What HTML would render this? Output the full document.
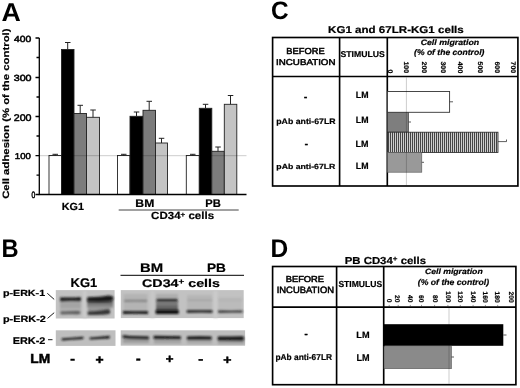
<!DOCTYPE html>
<html><head><meta charset="utf-8">
<style>
html,body{margin:0;padding:0;background:#fff;width:520px;height:388px;overflow:hidden}
svg{display:block}
text{font-family:"Liberation Sans",Arial,sans-serif;fill:#000;text-rendering:geometricPrecision}
.b{font-weight:bold;stroke:#000;stroke-width:0.2px}
.i{font-style:italic}
.n{stroke:#000;stroke-width:0.5px}
.s{stroke:#000;stroke-width:0.5px}
.L{font-weight:bold}
</style></head><body>
<svg width="520" height="388" viewBox="0 0 520 388">

<!-- ========== PANEL A ========== -->
<!-- reference line at 100 -->
<!-- bars -->
<g stroke="#222" stroke-width="0.9">
<rect x="49" y="155.5" width="12.5" height="39" fill="#fff"/>
<rect x="61.5" y="49.5" width="12.5" height="145" fill="#000"/>
<rect x="74" y="113.5" width="12.5" height="81" fill="#7c7c7c"/>
<rect x="86.5" y="117.3" width="13" height="77.2" fill="#c4c4c4"/>

<rect x="117.5" y="155.5" width="12.5" height="39" fill="#fff"/>
<rect x="130" y="116.3" width="13" height="78.2" fill="#000"/>
<rect x="143" y="110.3" width="12.5" height="84.2" fill="#7c7c7c"/>
<rect x="155.5" y="143" width="12" height="51.5" fill="#c4c4c4"/>

<rect x="186.3" y="155.5" width="13" height="39" fill="#fff"/>
<rect x="199.3" y="108.3" width="12.5" height="86.2" fill="#000"/>
<rect x="211.8" y="151.3" width="12.5" height="43.2" fill="#7c7c7c"/>
<rect x="224.3" y="104.3" width="12.5" height="90.2" fill="#c4c4c4"/>
</g>
<!-- error bars -->
<g stroke="#222" stroke-width="1" fill="none">
<path d="M67.7 49.5V42.5M65 42.5H70.5"/>
<path d="M80.2 113.5V105.3M77.5 105.3H83"/>
<path d="M93 117.3V110M90.3 110H95.8"/>
<path d="M55.2 155.5V154.3M52.5 154.3H58"/>
<path d="M136.5 116.3V112M133.8 112H139.3"/>
<path d="M149.2 110.3V101.3M146.5 101.3H152"/>
<path d="M161.5 143V138.3M158.8 138.3H164.3"/>
<path d="M123.7 155.5V154.3M121 154.3H126.5"/>
<path d="M192.8 155.5V154.3M190 154.3H195.5"/>
<path d="M205.5 108.3V104.3M202.8 104.3H208.3"/>
<path d="M218 151.3V147M215.3 147H220.8"/>
<path d="M230.5 104.3V95.5M227.8 95.5H233.3"/>
</g>
<line x1="40" y1="155.7" x2="246.5" y2="155.7" stroke="#000" stroke-opacity="0.2" stroke-width="1"/>
<!-- axes -->
<g stroke="#000" stroke-width="1.3" fill="none">
<path d="M39.3 38V194.5H246.5"/>
<path d="M35.5 38H39.3M35.5 77.5H39.3M35.5 116.5H39.3M35.5 155.7H39.3M35.5 194.5H39.3"/>
<path d="M36.5 57.5H39.3M36.5 97H39.3M36.5 136H39.3M36.5 175.2H39.3"/>
</g>
<line x1="118.7" y1="210" x2="238.7" y2="210" stroke="#444" stroke-width="1"/>

<!-- ========== PANEL B ========== -->
<line x1="120.5" y1="275.3" x2="244" y2="275.3" stroke="#000" stroke-width="1"/>
<g stroke="#000" stroke-width="0.9" fill="none">
<path d="M47.3 293.3L54.2 299.4"/>
<path d="M47.5 318.4L54.2 312.7"/>
<path d="M48 339.7H52.5"/>
</g>
<!-- blots -->
<defs>
<filter id="bl" x="-10%" y="-60%" width="120%" height="220%"><feGaussianBlur stdDeviation="0.9"/></filter>
<filter id="bl2" x="-10%" y="-60%" width="120%" height="220%"><feGaussianBlur stdDeviation="1.3"/></filter>
<linearGradient id="smk" x1="0" y1="0" x2="0" y2="1"><stop offset="0" stop-color="#555"/><stop offset="1" stop-color="#9a9a9a"/></linearGradient>
<linearGradient id="smb" x1="0" y1="0" x2="0" y2="1"><stop offset="0" stop-color="#8c8c8c"/><stop offset="1" stop-color="#505050"/></linearGradient>
</defs>
<rect x="55.8" y="290.1" width="58.8" height="28.4" fill="#c2c2c2"/>
<rect x="120.8" y="290.1" width="122.9" height="28" fill="#c2c2c2"/>
<rect x="55.8" y="330.3" width="59.7" height="15.6" fill="#bebebe"/>
<rect x="120.7" y="330.3" width="124.4" height="15.4" fill="#bebebe"/>
<g filter="url(#bl2)">
<rect x="60" y="300" width="21" height="8" fill="#a4a4a4"/>
<rect x="60" y="308" width="21" height="7" fill="#b0b0b0"/>
<rect x="87" y="300" width="26" height="8" fill="url(#smk)"/>
<rect x="88" y="308" width="22" height="4" fill="#9a9a9a"/>
<rect x="123.5" y="294" width="24" height="20" fill="#b4b4b4"/>
<rect x="156" y="294" width="22" height="5" fill="#adadad"/>
<rect x="156" y="301" width="22" height="10" fill="url(#smb)"/>
<rect x="187" y="295" width="25" height="15" fill="#b6b6b6"/>
<rect x="218" y="297" width="24" height="13" fill="#bbb"/>
<rect x="123" y="338" width="26" height="5" fill="#9c9c9c"/>
<rect x="154" y="338.5" width="27" height="5" fill="#a2a2a2"/>
<rect x="187" y="339" width="25" height="4.5" fill="#a6a6a6"/>
<rect x="218" y="339" width="26" height="5" fill="#9e9e9e"/>
<rect x="83" y="291" width="3.5" height="27" fill="#cbcbcb"/>
<rect x="150.5" y="291" width="4" height="27" fill="#c8c8c8"/>
<rect x="213.5" y="291" width="4" height="27" fill="#cbcbcb"/>
</g>
<g filter="url(#bl)">
<!-- KG1 p-ERK lane1 -->
<path d="M60.5 297.2Q70 297.9 80.5 297Q81.8 299 80.5 301Q70 300.2 60.5 301.2Q59.3 299.2 60.5 297.2Z" fill="#1c1c1c"/>
<path d="M61 311.4Q70 311.6 77 311Q80.5 310.8 80.5 312.6Q80.5 314.4 77 314.2Q70 314 61 314.3Q60 312.8 61 311.4Z" fill="#5c5c5c"/>
<!-- KG1 lane2 -->
<path d="M87.5 297.3Q100 297 108 295.6Q113.5 295.6 113.5 298.6Q113 301.3 108 301.6Q100 301.8 87.5 301.6Q86.3 299.5 87.5 297.3Z" fill="#121212"/>
<path d="M88 311.4Q97 311.2 103 310.2Q106 309 109 309.6Q111 311.6 109.5 314Q104 315 96 315Q90 315 88 315Q87 313.2 88 311.4Z" fill="#363636"/>
<!-- CD34 lane1 BM- -->
<path d="M124.3 299.8Q136 299.6 147 299.8V301.9Q136 301.7 124.3 301.9Z" fill="#858585"/>
<path d="M123.2 311Q135 311.3 147.8 311.2Q148.6 312.6 147.8 314Q135 313.6 123.2 314Q122.4 312.5 123.2 311Z" fill="#151515"/>
<!-- BM+ -->
<path d="M156.6 299Q167 298.8 177.6 299V301.6Q167 301.4 156.6 301.6Z" fill="#1e1e1e"/>
<path d="M155.9 310Q167 310.2 178.5 310Q179.3 312 178.5 314Q167 313.8 155.9 314Q155.1 312 155.9 310Z" fill="#0e0e0e"/>
<!-- PB- -->
<path d="M187.5 299.6Q200 299.4 212 299.6V301Q200 300.8 187.5 301Z" fill="#a4a4a4"/>
<path d="M187 310.2Q200 310.3 212.2 310.2Q213 311.4 212.2 312.7Q200 312.4 187 312.8Q186 311.5 187 310.2Z" fill="#161616"/>
<!-- PB+ -->
<path d="M218.5 299.8Q230 299.6 242 299.8V301Q230 300.8 218.5 301Z" fill="#b0b0b0"/>
<path d="M218.4 310.6Q230 310.7 242.3 310.6Q243 311.6 242.3 312.6Q230 312.4 218.4 312.7Q217.7 311.6 218.4 310.6Z" fill="#202020"/>
<!-- ERK-2 KG1 -->
<path d="M62 338.3Q72 337.9 80 337.1Q83.5 336.2 83.8 337.7Q83.5 339.3 80 339.2Q72 339.6 62 340.4Q61 339.3 62 338.3Z" fill="#181818"/>
<path d="M89.9 337.4Q100 337 109.4 335.8Q110.3 337.2 109.4 338.4Q100 338.6 89.9 339.6Q89 338.5 89.9 337.4Z" fill="#181818"/>
<!-- ERK-2 CD34 -->
<path d="M123 335.3Q126 335.4 130 336Q140 336.3 148.8 336.4V338.9Q140 338.7 130 338.6Q126 338.4 123 337.8Q122 336.5 123 335.3Z" fill="#121212"/>
<path d="M153.8 335.8Q168 336.1 180.8 336.3V339Q168 338.8 153.8 338.8Q153 337.3 153.8 335.8Z" fill="#141414"/>
<path d="M187.2 336.4Q200 336.3 211.4 336.4Q212.2 338 211.4 339.6Q200 339.5 187.2 339.6Q186.4 338 187.2 336.4Z" fill="#121212"/>
<path d="M218 336.6Q232 336.4 243 336.3Q245 338.4 243 340.4Q232 340.2 218 340.2Q217.2 338.4 218 336.6Z" fill="#121212"/>
</g>

<!-- ========== PANEL C ========== -->
<g stroke="#000" fill="none" stroke-width="1.65">
<rect x="272.6" y="37.5" width="245.3" height="148.5"/>
<path d="M339.6 37.5V186M387.3 37.5V186M272.6 76.5H517.9"/>
</g>
<rect x="387.4" y="91.5" width="62.2" height="20.8" fill="#fff" stroke="#333" stroke-width="0.9"/>
<rect x="387.4" y="112.3" width="21.2" height="19.8" fill="#7e7e7e" stroke="#333" stroke-width="0.6"/>
<defs><pattern id="vs" x="388" width="2" height="4" patternUnits="userSpaceOnUse"><rect width="2" height="4" fill="#d4d4d4"/><rect width="1.05" height="4" fill="#444"/></pattern></defs>
<rect x="387.4" y="132.2" width="110.6" height="20.2" fill="url(#vs)" stroke="#222" stroke-width="0.8"/>
<rect x="387.4" y="152.4" width="34.4" height="19.8" fill="#999" stroke="#555" stroke-width="0.6"/>
<line x1="406.4" y1="77.5" x2="406.4" y2="185.2" stroke="#000" stroke-opacity="0.2" stroke-width="1"/>
<g stroke="#333" stroke-width="0.8" fill="none">
<path d="M449.6 101.8H453"/>
<path d="M408.6 122H411"/>
<path d="M498 141.6H506.5V139.5"/>
<path d="M421.8 162.3H424"/>
</g>

<path d="M389.2 304.9V306.3M398.2 304.9V306.3M410.3 304.9V306.3M421.5 304.9V306.3M434.6 304.9V306.3M447.9 304.9V306.3M460.3 304.9V306.3M473.1 304.9V306.3M485.4 304.9V306.3M497.7 304.9V306.3" stroke="#777" stroke-width="0.8" fill="none"/>
<!-- ========== PANEL D ========== -->
<g stroke="#000" fill="none" stroke-width="1.65">
<rect x="272.6" y="266.5" width="243.3" height="118.2"/>
<path d="M336.6 266.5V384.7M383.7 266.5V384.7M272.6 307.1H515.9"/>
</g>
<rect x="384" y="324.2" width="119.3" height="21.6" fill="#000"/>
<rect x="384" y="346.6" width="67.4" height="22.1" fill="#8a8a8a" stroke="#555" stroke-width="0.6"/>
<line x1="449" y1="308" x2="449" y2="383.8" stroke="#000" stroke-opacity="0.2" stroke-width="1"/>
<g stroke="#333" stroke-width="0.8" fill="none">
<path d="M503.3 335H506.5"/>
<path d="M451.4 357H454"/>
</g>

<text class="L" font-size="25.86" transform="translate(1.55,20.72) scale(1.0334,1)">A</text>
<text class="b" font-size="9.17" transform="translate(8.53,198.87) rotate(-90) scale(1.2407,1)">Cell adhesion  (% of the control)</text>
<text class="n" font-size="8.80" transform="translate(13.93,42.08) scale(1.1744,1)">400</text>
<text class="n" font-size="8.84" transform="translate(13.68,80.76) scale(1.2118,1)">300</text>
<text class="n" font-size="9.74" transform="translate(13.72,120.60) scale(1.0976,1)">200</text>
<text class="n" font-size="8.54" transform="translate(14.87,159.07) scale(1.1272,1)">100</text>
<text class="n" font-size="9.28" transform="translate(31.46,197.79) scale(0.7250,1)">0</text>
<text class="b" font-size="10.32" transform="translate(61.71,209.57) scale(1.0454,1)">KG1</text>
<text class="b" font-size="11.00" transform="translate(135.36,207.34) scale(1.1057,1)">BM</text>
<text class="b" font-size="11.08" transform="translate(205.37,207.34) scale(1.0066,1)">PB</text>
<text class="b" font-size="10.41" transform="translate(151.10,219.42) scale(1.1065,1)">CD34<tspan font-size="0.7em" dy="-0.4em">+</tspan><tspan dy="0.28em"> cells</tspan></text>
<text class="L" font-size="25.43" transform="translate(1.45,257.01) scale(0.9320,1)">B</text>
<text class="b" font-size="12.58" transform="translate(70.61,286.58) scale(1.0298,1)">KG1</text>
<text class="b" font-size="12.40" transform="translate(139.97,272.12) scale(1.1974,1)">BM</text>
<text class="b" font-size="12.20" transform="translate(206.92,272.14) scale(1.1223,1)">PB</text>
<text class="b" font-size="11.16" transform="translate(142.08,286.80) scale(1.2761,1)">CD34<tspan font-size="0.7em" dy="-0.4em">+</tspan><tspan dy="0.28em"> cells</tspan></text>
<text class="b" font-size="8.89" transform="translate(2.95,295.68) scale(1.2033,1)">p-ERK-1</text>
<text class="b" font-size="9.04" transform="translate(2.89,321.62) scale(1.2080,1)">p-ERK-2</text>
<text class="b" font-size="9.73" transform="translate(12.66,343.84) scale(1.1227,1)">ERK-2</text>
<text class="b s" font-size="13.08" transform="translate(30.34,363.42) scale(1.0522,1)">LM</text>
<text class="b s" font-size="12.64" transform="translate(70.33,363.42) scale(1.1080,1)">-</text>
<text class="b s" font-size="13.02" transform="translate(95.62,363.56) scale(1.0652,1)">+</text>
<text class="b s" font-size="12.99" transform="translate(135.90,363.15) scale(1.0729,1)">-</text>
<text class="b s" font-size="12.44" transform="translate(165.76,363.29) scale(1.0650,1)">+</text>
<text class="b s" font-size="12.05" transform="translate(198.26,363.42) scale(1.2275,1)">-</text>
<text class="b s" font-size="12.22" transform="translate(223.23,363.51) scale(1.1459,1)">+</text>
<text class="L" font-size="25.26" transform="translate(270.90,19.36) scale(0.9646,1)">C</text>
<text class="b" font-size="9.89" transform="translate(328.08,32.74) scale(1.1716,1)">KG1 and 67LR-KG1 cells</text>
<text class="n" font-size="8.73" transform="translate(286.37,54.44) scale(1.0658,1)">BEFORE</text>
<text class="n" font-size="8.55" transform="translate(276.05,64.61) scale(1.1415,1)">INCUBATION</text>
<text class="b" font-size="8.47" transform="translate(340.54,56.62) scale(1.0234,1)">STIMULUS</text>
<text class="b i" font-size="7.84" transform="translate(420.64,44.74) scale(1.1209,1)">Cell migration</text>
<text class="b i" font-size="8.19" transform="translate(414.06,54.95) scale(1.0464,1)">(% of the control)</text>
<text class="b s" font-size="9.50" transform="translate(304.09,100.02)">-</text>
<text class="b" font-size="7.96" transform="translate(276.26,124.17) scale(1.0999,1)">pAb anti-67LR</text>
<text class="b s" font-size="9.50" transform="translate(304.64,146.76)">-</text>
<text class="b" font-size="7.40" transform="translate(276.31,169.04) scale(1.1783,1)">pAb anti-67LR</text>
<text class="b" font-size="9.14" transform="translate(355.79,98.13) scale(0.9654,1)">LM</text>
<text class="b" font-size="9.14" transform="translate(355.79,123.46) scale(0.9654,1)">LM</text>
<text class="b" font-size="9.00" transform="translate(355.61,147.28)">LM</text>
<text class="b" font-size="9.14" transform="translate(355.79,169.46) scale(0.9654,1)">LM</text>
<text class="L" font-size="25.43" transform="translate(270.55,256.97) scale(0.9631,1)">D</text>
<text class="b" font-size="10.08" transform="translate(344.67,264.12) scale(1.1305,1)">PB CD34<tspan font-size="0.7em" dy="-0.4em">+</tspan><tspan dy="0.28em"> cells</tspan></text>
<text class="n" font-size="8.60" transform="translate(285.70,282.02) scale(1.0851,1)">BEFORE</text>
<text class="n" font-size="9.18" transform="translate(276.72,293.44) scale(1.0250,1)">INCUBATION</text>
<text class="b" font-size="8.70" transform="translate(338.38,287.24) scale(0.9852,1)">STIMULUS</text>
<text class="b i" font-size="7.76" transform="translate(424.89,274.01) scale(1.1188,1)">Cell migration</text>
<text class="b i" font-size="8.35" transform="translate(417.81,284.72) scale(1.0382,1)">(% of the control)</text>
<text class="b s" font-size="9.50" transform="translate(304.46,337.22)">-</text>
<text class="b" font-size="8.55" transform="translate(275.42,360.38) scale(0.9776,1)">pAb anti-67LR</text>
<text class="b" font-size="9.04" transform="translate(356.33,338.29) scale(1.0147,1)">LM</text>
<text class="b" font-size="9.74" transform="translate(356.43,360.66) scale(0.9344,1)">LM</text>
<text class="b" font-size="6.76" transform="translate(388.48,69.40) rotate(90) scale(1.0377,1)">0</text>
<text class="b" font-size="6.76" transform="translate(403.52,61.39) rotate(90) scale(1.0377,1)">100</text>
<text class="b" font-size="6.76" transform="translate(421.67,61.55) rotate(90) scale(1.0377,1)">200</text>
<text class="b" font-size="6.76" transform="translate(440.94,61.38) rotate(90) scale(1.0377,1)">300</text>
<text class="b" font-size="6.76" transform="translate(458.16,61.65) rotate(90) scale(1.0377,1)">400</text>
<text class="b" font-size="6.76" transform="translate(477.63,61.52) rotate(90) scale(1.0377,1)">500</text>
<text class="b" font-size="6.76" transform="translate(495.11,61.38) rotate(90) scale(1.0377,1)">600</text>
<text class="b" font-size="6.76" transform="translate(511.44,61.55) rotate(90) scale(1.0377,1)">700</text>
<text class="b" font-size="6.77" transform="translate(386.95,298.83) rotate(90)">0</text>
<text class="b" font-size="6.77" transform="translate(395.45,294.89) rotate(90)">20</text>
<text class="b" font-size="6.77" transform="translate(407.70,295.01) rotate(90)">40</text>
<text class="b" font-size="6.77" transform="translate(419.08,294.93) rotate(90)">60</text>
<text class="b" font-size="6.77" transform="translate(432.70,294.89) rotate(90)">80</text>
<text class="b" font-size="6.77" transform="translate(445.87,291.34) rotate(90)">100</text>
<text class="b" font-size="6.77" transform="translate(457.65,291.34) rotate(90)">120</text>
<text class="b" font-size="6.77" transform="translate(470.80,291.24) rotate(90)">140</text>
<text class="b" font-size="6.77" transform="translate(482.87,291.38) rotate(90)">160</text>
<text class="b" font-size="6.77" transform="translate(495.19,291.38) rotate(90)">180</text>
<text class="b" font-size="6.77" transform="translate(508.56,291.40) rotate(90)">200</text>
</svg>
</body></html>
